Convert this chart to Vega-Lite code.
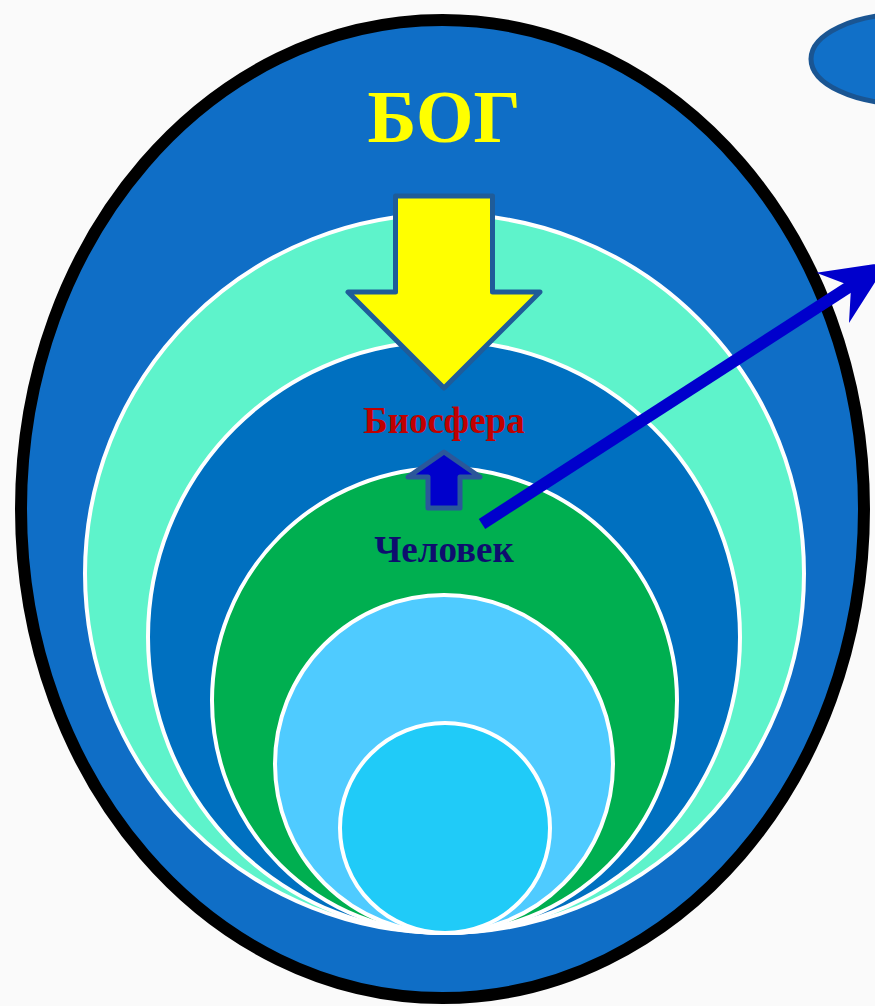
{
  "$schema": "https://vega.github.io/schema/vega-lite/v6.json",
  "width": 875,
  "height": 1006,
  "autosize": "none",
  "padding": 0,
  "background": "#FAFAFA",
  "config": {"view": {"stroke": null}},
  "encoding": {
    "x": {"field": "x", "type": "quantitative", "scale": {"domain": [0, 875]}, "axis": null},
    "y": {"field": "y", "type": "quantitative", "scale": {"domain": [0, 1006], "reverse": true}, "axis": null}
  },
  "layer": [
    {
      "data": {"values": [{"name": "outer", "x": 442.5, "y": 509, "d": 843}]},
      "mark": {"type": "point", "shape": "M -1 0 A 1 1.16 0 1 0 1 0 A 1 1.16 0 1 0 -1 0 Z", "filled": true, "fill": "#0F6EC6", "stroke": "#000000", "strokeWidth": 12, "opacity": 1},
      "encoding": {"size": {"field": "d", "type": "quantitative", "scale": {"type": "pow", "exponent": 2, "domain": [0, 1000], "range": [0, 1000000]}, "legend": null}}
    },
    {
      "data": {"values": [{"name": "side", "x": 906, "y": 59, "d": 190}]},
      "mark": {"type": "point", "shape": "M -1 0 A 1 0.474 0 1 0 1 0 A 1 0.474 0 1 0 -1 0 Z", "filled": true, "fill": "#1170C8", "stroke": "#1A5592", "strokeWidth": 5, "opacity": 1},
      "encoding": {"size": {"field": "d", "type": "quantitative", "legend": null}}
    },
    {
      "data": {"values": [
        {"ring": "a", "x": 444.5, "y": 573.5, "d": 719},
        {"ring": "b", "x": 444, "y": 637, "d": 592},
        {"ring": "c", "x": 444.5, "y": 700.5, "d": 465},
        {"ring": "d", "x": 444, "y": 764, "d": 338},
        {"ring": "e", "x": 445, "y": 828, "d": 210}
      ]},
      "mark": {"type": "point", "shape": "circle", "filled": true, "stroke": "#FFFFFF", "strokeWidth": 4, "opacity": 1},
      "encoding": {
        "size": {"field": "d", "type": "quantitative", "legend": null},
        "fill": {"field": "ring", "type": "nominal", "scale": {"domain": ["a", "b", "c", "d", "e"], "range": ["#5EF3CB", "#0070C0", "#00AF50", "#4FCBFF", "#20CBF8"]}, "legend": null},
        "order": {"field": "d", "sort": "descending"}
      }
    },
    {
      "data": {"values": [{"name": "down", "x": 444, "y": 292, "d": 200}]},
      "mark": {"type": "point", "shape": "M -0.485 -0.96 L 0.485 -0.96 L 0.485 0 L 0.96 0 L 0 0.96 L -0.96 0 L -0.485 0 Z", "filled": true, "fill": "#FFFF00", "stroke": "#1F5C99", "strokeWidth": 5, "strokeJoin": "round", "opacity": 1},
      "encoding": {"size": {"field": "d", "type": "quantitative", "legend": null}}
    },
    {
      "data": {"values": [{"x": 482, "y": 524, "x2": 852, "y2": 285}]},
      "mark": {"type": "rule", "stroke": "#0000CC", "strokeWidth": 12},
      "encoding": {"x2": {"field": "x2"}, "y2": {"field": "y2"}}
    },
    {
      "data": {"values": [{"name": "up", "x": 444, "y": 480, "d": 200}]},
      "mark": {"type": "point", "shape": "M 0 -0.28 L 0.36 -0.03 L 0.16 -0.03 L 0.16 0.28 L -0.16 0.28 L -0.16 -0.03 L -0.36 -0.03 Z", "filled": true, "fill": "#0000CC", "stroke": "#2B579A", "strokeWidth": 5, "strokeJoin": "round", "opacity": 1},
      "encoding": {"size": {"field": "d", "type": "quantitative", "legend": null}}
    },
    {
      "data": {"values": [{"name": "head", "x": 888, "y": 262, "d": 200}]},
      "mark": {"type": "point", "shape": "M 0 0 L -0.66 -0.3 L -0.44 0 L -0.66 0.3 Z", "angle": -33, "filled": true, "fill": "#0000CC", "strokeWidth": 0, "opacity": 1},
      "encoding": {"size": {"field": "d", "type": "quantitative", "legend": null}}
    },
    {
      "data": {"values": [
        {"label": "БОГ", "x": 444, "y": 142}
      ]},
      "mark": {"type": "text", "font": "Liberation Serif", "fontWeight": "bold", "fontSize": 74, "fill": "#FFFF00", "align": "center", "baseline": "alphabetic"},
      "encoding": {"text": {"field": "label"}}
    },
    {
      "data": {"values": [
        {"label": "Биосфера", "x": 444, "y": 433}
      ]},
      "mark": {"type": "text", "font": "Liberation Serif", "fontWeight": "bold", "fontSize": 37, "fill": "#C00000", "align": "center", "baseline": "alphabetic"},
      "encoding": {"text": {"field": "label"}}
    },
    {
      "data": {"values": [
        {"label": "Человек", "x": 444, "y": 562}
      ]},
      "mark": {"type": "text", "font": "Liberation Serif", "fontWeight": "bold", "fontSize": 37, "fill": "#0E0E6E", "align": "center", "baseline": "alphabetic"},
      "encoding": {"text": {"field": "label"}}
    }
  ]
}
